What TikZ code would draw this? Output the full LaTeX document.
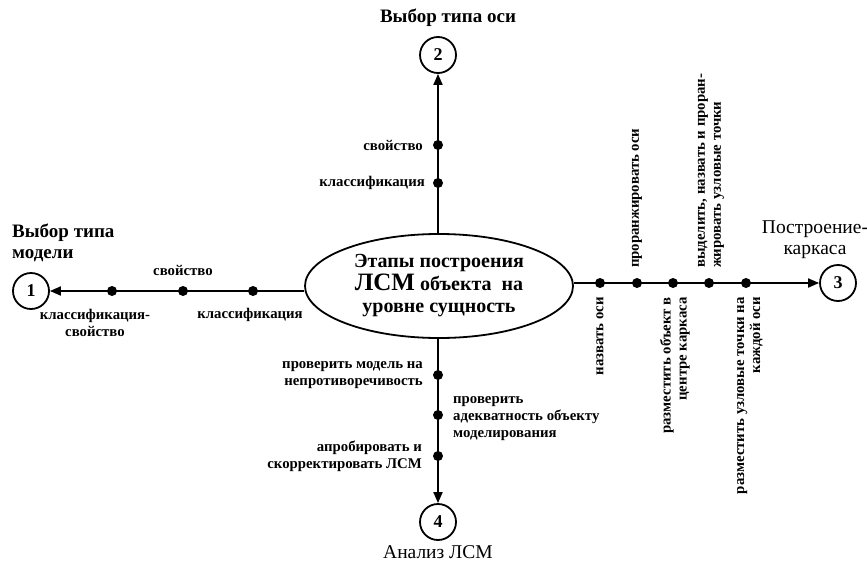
\documentclass[tikz,border=0pt]{standalone}
\usepackage{fontspec}
\setmainfont{Liberation Serif}
\usetikzlibrary{shapes.geometric,arrows.meta}
\begin{document}
\begin{tikzpicture}[x=1pt,y=-1pt,
  conn/.style={line width=1.8pt,-{Triangle[length=11pt,width=9pt]}},
  dotn/.style={circle,fill=black,inner sep=0pt,minimum size=10pt},
  num/.style={circle,draw,line width=1.8pt,minimum size=36pt,inner sep=0pt,font=\fontsize{18}{18}\selectfont\bfseries},
  lbl/.style={font=\fontsize{14.8}{17}\selectfont\bfseries,inner sep=0pt},
  rlbl/.style={lbl,font=\fontsize{14.8}{16}\selectfont\bfseries,rotate=90},
  head/.style={font=\fontsize{19.5}{21}\selectfont,inner sep=0pt},
  headb/.style={font=\fontsize{19}{21}\selectfont\bfseries,inner sep=0pt},
  ell/.style={ellipse,draw,line width=1.8pt,minimum width=268pt,minimum height=104pt,inner sep=0pt,align=center,font=\fontsize{20}{22.5}\selectfont\bfseries}]
\useasboundingbox (0,0) rectangle (867,562);

% centre ellipse
\node[ell] (e) at (439,286) {Этапы построения\\{\fontsize{25}{22.5}\selectfont ЛСМ} объекта~~на\\уровне сущность};

% numbered circles
\node[num] (c1) at (31,291) {1};
\node[num] (c2) at (438,55) {2};
\node[num] (c3) at (838,283) {3};
\node[num] (c4) at (438,522) {4};

% connectors
\draw[conn] (e.west |- c1) -- (c1.east);
\draw[conn] (e.north -| c2) -- (c2.south);
\draw[conn] (e.east |- c3) -- (c3.west);
\draw[conn] (e.south -| c4) -- (c4.north);

% dots
\node[dotn] (l1) at (112,291) {};
\node[dotn] (l2) at (183,291) {};
\node[dotn] (l3) at (253,291) {};
\node[dotn] (u1) at (438,145) {};
\node[dotn] (u2) at (438,183) {};
\node[dotn] (d1) at (438,375) {};
\node[dotn] (d2) at (438,415) {};
\node[dotn] (d3) at (438,456) {};
\node[dotn] (r1) at (600,283) {};
\node[dotn] (r2) at (637,283) {};
\node[dotn] (r3) at (673,283) {};
\node[dotn] (r4) at (709,283) {};
\node[dotn] (r5) at (746,283) {};

% headings
\node[headb,anchor=west,align=left] (h1) at (12,242.5) {Выбор типа\\модели};
\node[headb] (h2) at (448,18) {Выбор типа оси};
\node[head,align=center] (h3) at (815,240) {Построение-\\каркаса};
\node[head,anchor=base] (h4) at (438,558) {Анализ ЛСМ};

% labels up
\node[lbl,anchor=east] (tu1) at (423,145) {свойство};
\node[lbl,anchor=east] (tu2) at (425,183) {классификация};

% labels left
\node[lbl] (tl2) at (183,270) {свойство};
\node[lbl,align=center] (tl1) at (95,323) {классификация-\\свойство};
\node[lbl] (tl3) at (250,315) {классификация};

% labels down
\node[lbl,anchor=east,align=right] (td1) at (423,375) {проверить модель на\\непротиворечивость};
\node[lbl,anchor=west,align=left] (td2) at (453,419) {проверить\\адекватность объекту\\моделирования};
\node[lbl,anchor=east,align=right] (td3) at (422,456) {апробировать и\\скорректировать ЛСМ};

% labels right (rotated)
\node[rlbl,anchor=east,align=right] (tr1) at (600,297) {назвать оси};
\node[rlbl,anchor=west,align=left] (tr2) at (637,268) {проранжировать оси};
\node[rlbl,anchor=east,align=right] (tr3) at (675,297) {разместить объект в\\центре каркаса};
\node[rlbl,anchor=west,align=left] (tr4) at (711,268) {выделить, назвать и проран-\\жировать узловые точки};
\node[rlbl,anchor=east,align=right] (tr5) at (750,297) {разместить узловые точки на\\каждой оси};
\end{tikzpicture}
\end{document}
